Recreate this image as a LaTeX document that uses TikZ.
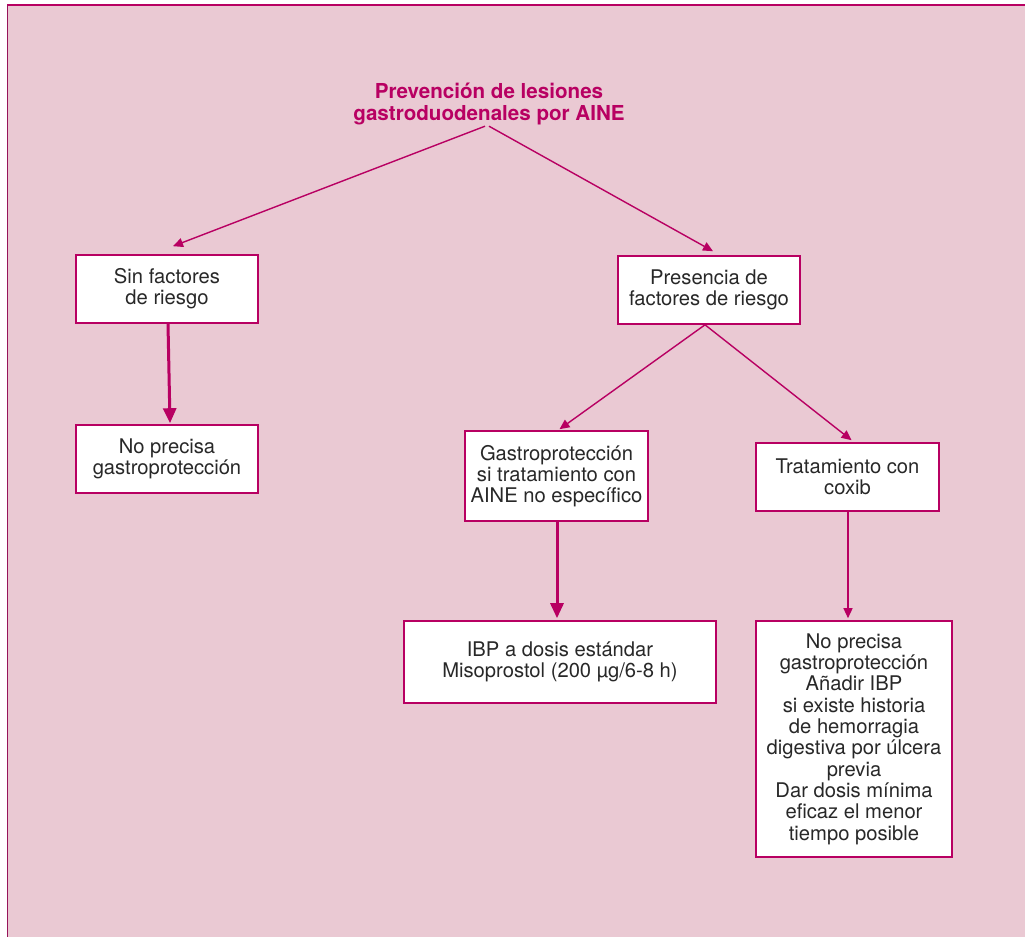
\documentclass[tikz,border=0pt]{standalone}
\usepackage{fontspec}
\setmainfont{TeX Gyre Heros}
\usetikzlibrary{arrows.meta}
\definecolor{frame}{RGB}{234,201,211}
\definecolor{accent}{RGB}{184,0,98}
\definecolor{edgeline}{RGB}{150,20,90}
\definecolor{ink}{RGB}{40,40,40}
\begin{document}
\begin{tikzpicture}[x=1pt,y=-1pt,
  box/.style={draw=accent, line width=1.6pt, fill=white, text=ink,
    align=center, inner sep=0pt, font=\fontsize{20.2}{21.3}\selectfont},
  thinarrow/.style={draw=accent, line width=1.4pt,
    -{Triangle[length=10pt,width=9pt]}},
  thickarrow/.style={draw=accent, line width=3pt,
    -{Triangle[length=15pt,width=13pt]}}]
  % page and panel
  \useasboundingbox (0,0) rectangle (1025,937);
  \fill[white] (0,0) rectangle (1025,937);
  \fill[frame] (7,5) rectangle (1025,937);
  \draw[accent, line width=2pt] (7,5) -- (1025,5);
  \draw[edgeline, line width=1pt] (7,5) -- (7,937);

  % title
  \node[text=accent, align=center, inner sep=0pt,
        font=\bfseries\fontsize{20.6}{22}\selectfont] (title) at (489,104)
    {Prevención de lesiones\\gastroduodenales por AINE};

  % boxes
  \node[box, minimum width=182pt, minimum height=68pt] (sin) at (167,289)
    {Sin factores\\de riesgo};
  \node[box, minimum width=182pt, minimum height=68pt] (nop) at (167,459)
    {No precisa\\gastroprotección};
  \node[box, minimum width=182pt, minimum height=68pt] (pres) at (709,290)
    {Presencia de\\factores de riesgo};
  \node[box, minimum width=183pt, minimum height=90pt] (gas) at (556.5,476)
    {Gastroprotección\\si tratamiento con\\AINE no específico};
  \node[box, minimum width=312pt, minimum height=82pt] (ibp) at (560,662)
    {IBP a dosis estándar\\Misoprostol (200 µg/6-8 h)};
  \node[box, minimum width=183pt, minimum height=68pt] (trat) at (847.5,477)
    {Tratamiento con\\coxib};
  \node[box, minimum width=196pt, minimum height=236pt] (fin) at (854,739)
    {No precisa\\gastroprotección\\Añadir IBP\\si existe historia\\de hemorragia\\digestiva por úlcera\\previa\\Dar dosis mínima\\eficaz el menor\\tiempo posible};

  % connectors
  \draw[thinarrow] ([xshift=-4pt,yshift=-1pt]title.south) -- ([xshift=6pt,yshift=8pt]sin.north);
  \draw[thinarrow] ([xshift=0pt,yshift=-1pt]title.south) -- ([xshift=4pt,yshift=4pt]pres.north);
  \draw[thickarrow] ([xshift=1pt]sin.south) -- ([xshift=3pt,yshift=1pt]nop.north);
  \draw[thinarrow] ([xshift=-4pt]pres.south) -- ([xshift=3pt,yshift=1pt]gas.north);
  \draw[thinarrow] ([xshift=-4pt]pres.south) -- ([xshift=4pt,yshift=2pt]trat.north);
  \draw[thickarrow] ([xshift=0.5pt]gas.south) -- ([xshift=-3pt,yshift=2pt]ibp.north);
  \draw[thinarrow] ([xshift=0.5pt]trat.south) -- ([xshift=-6pt,yshift=2pt]fin.north);
\end{tikzpicture}
\end{document}
